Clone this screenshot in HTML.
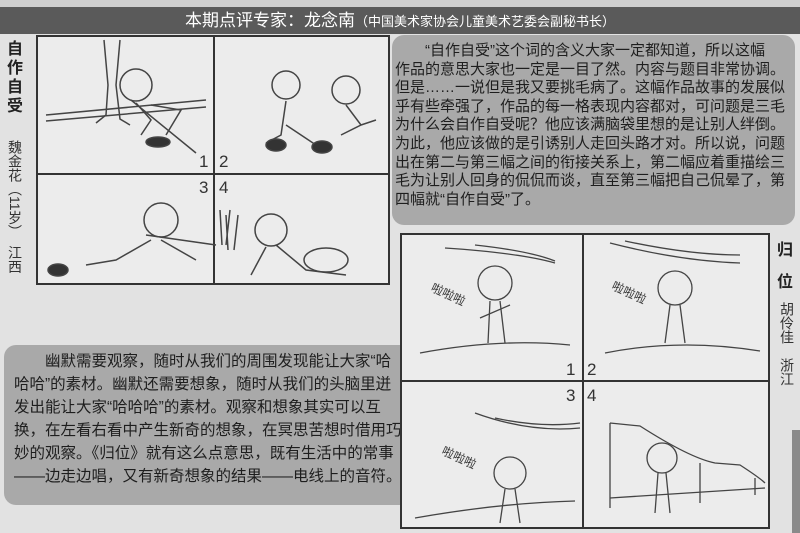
<!DOCTYPE html>
<html><head><meta charset="utf-8"><style>
body{margin:0;width:800px;height:533px;overflow:hidden;background:#e2e2e2;position:relative;font-family:"Liberation Sans","Noto Sans CJK SC",sans-serif;}
.abs{position:absolute}
.hdr{left:0;top:7px;width:800px;height:27px;background:#5a5a5a;color:#fff;font-size:17px;line-height:27px;text-align:center;}
.hdr small{font-size:13px}
.box{background:#a9a9a9;border-radius:12px;color:#1e1e1e;}
.line{white-space:nowrap;}
.frame{border:2px solid #333;background:#ececec;}
.vl{background:#333}
.num{font-size:17px;color:#333;}
.vt{font-weight:bold;font-size:16px;width:18px;line-height:19px;color:#222;text-align:center}
.vw{writing-mode:vertical-rl;font-size:14px;color:#333;line-height:16px;white-space:nowrap}
</style></head><body>
<div class="abs" style="left:0;top:0;width:800px;height:7px;background:#cfcfcf"></div>
<div class="abs hdr">本期点评专家：龙念南<small>（中国美术家协会儿童美术艺委会副秘书长）</small></div>

<div class="abs vt" style="left:6px;top:40px">自<br>作<br>自<br>受</div>
<div class="abs vw" style="left:7px;top:140px">魏金花（11岁）　江西</div>

<div class="abs frame" style="left:36px;top:35px;width:350px;height:246px"></div>
<div class="abs vl" style="left:213px;top:35px;width:2px;height:250px"></div>
<div class="abs vl" style="left:36px;top:173px;width:352px;height:2px"></div>
<div class="abs num" style="left:199px;top:152px">1</div>
<div class="abs num" style="left:219px;top:152px">2</div>
<div class="abs num" style="left:199px;top:178px">3</div>
<div class="abs num" style="left:219px;top:178px">4</div>
<svg class="abs" style="left:36px;top:35px" width="352" height="250" fill="none" stroke="#444" stroke-width="1.5">
<path d="M68 5 L72 50 L70 80 L60 88 M84 5 L80 50 L84 84 L94 90"/>
<path d="M10 80 L170 65 M10 86 L170 72 M95 65 L160 118"/>
<circle cx="100" cy="50" r="16"/><path d="M100 68 L115 85 L105 100 M115 70 L145 75 L130 100"/>
<ellipse cx="122" cy="107" rx="12" ry="5" fill="#333"/>
<circle cx="250" cy="50" r="14"/><path d="M250 66 L245 100 L230 108 M250 90 L280 110"/>
<ellipse cx="240" cy="110" rx="10" ry="6" fill="#333"/><ellipse cx="286" cy="112" rx="10" ry="6" fill="#333"/>
<circle cx="310" cy="55" r="14"/><path d="M310 70 L325 90 L305 100 M325 90 L340 85"/>
<path d="M110 200 L180 210 M184 175 L186 210 M194 175 L190 210"/>
<circle cx="125" cy="185" r="17"/><path d="M115 205 L80 225 L50 230 M125 205 L160 225"/>
<ellipse cx="22" cy="235" rx="10" ry="6" fill="#333"/>
<path d="M190 180 L192 215 M202 180 L198 215"/>
<circle cx="235" cy="195" r="16"/><path d="M230 212 L215 240 M240 210 L270 235 L310 240"/>
<ellipse cx="290" cy="225" rx="22" ry="12"/>
</svg>

<div class="abs box" style="left:392px;top:35px;width:403px;height:190px"></div>
<div class="abs" style="left:395px;top:42px;font-size:15px;line-height:18.6px;color:#1e1e1e">
<div class="line">　　“自作自受”这个词的含义大家一定都知道，所以这幅</div>
<div class="line">作品的意思大家也一定是一目了然。内容与题目非常协调。</div>
<div class="line">但是……一说但是我又要挑毛病了。这幅作品故事的发展似</div>
<div class="line">乎有些牵强了，作品的每一格表现内容都对，可问题是三毛</div>
<div class="line">为什么会自作自受呢？他应该满脑袋里想的是让别人绊倒。</div>
<div class="line">为此，他应该做的是引诱别人走回头路才对。所以说，问题</div>
<div class="line">出在第二与第三幅之间的衔接关系上，第二幅应着重描绘三</div>
<div class="line">毛为让别人回身的侃侃而谈，直至第三幅把自己侃晕了，第</div>
<div class="line">四幅就“自作自受”了。</div>
</div>

<div class="abs box" style="left:4px;top:345px;width:410px;height:160px"></div>
<div class="abs" style="left:14px;top:350px;font-size:15.5px;line-height:23px;color:#1e1e1e">
<div class="line">　　幽默需要观察，随时从我们的周围发现能让大家“哈</div>
<div class="line">哈哈”的素材。幽默还需要想象，随时从我们的头脑里迸</div>
<div class="line">发出能让大家“哈哈哈”的素材。观察和想象其实可以互</div>
<div class="line">换，在左看右看中产生新奇的想象，在冥思苦想时借用巧</div>
<div class="line">妙的观察。《归位》就有这么点意思，既有生活中的常事</div>
<div class="line">——边走边唱，又有新奇想象的结果——电线上的音符。</div>
</div>

<div class="abs frame" style="left:400px;top:233px;width:366px;height:292px"></div>
<div class="abs vl" style="left:582px;top:233px;width:2px;height:296px"></div>
<div class="abs vl" style="left:400px;top:380px;width:370px;height:2px"></div>
<div class="abs num" style="left:566px;top:360px">1</div>
<div class="abs num" style="left:587px;top:360px">2</div>
<div class="abs num" style="left:566px;top:386px">3</div>
<div class="abs num" style="left:587px;top:386px">4</div>
<svg class="abs" style="left:400px;top:233px" width="370" height="296" fill="none" stroke="#444" stroke-width="1.3">
<path d="M45 15 Q120 20 155 30 M75 12 Q130 18 155 28"/>
<path d="M20 120 Q100 105 170 112"/>
<circle cx="95" cy="50" r="17"/><path d="M90 68 L88 110 M100 68 L105 110 M80 85 L110 72"/>
<text x="30" y="62" font-size="12" fill="#333" stroke="none" transform="rotate(25 40 60)">啦啦啦</text>
<path d="M210 10 Q280 28 340 30 M225 8 Q290 22 340 22"/>
<path d="M205 120 Q280 105 360 118"/>
<circle cx="275" cy="55" r="17"/><path d="M270 72 L265 110 M280 72 L285 110"/>
<text x="210" y="60" font-size="12" fill="#333" stroke="none" transform="rotate(25 220 60)">啦啦啦</text>
<path d="M75 180 Q130 200 180 195 M95 185 Q140 195 180 190"/>
<path d="M15 285 Q100 270 175 268"/>
<circle cx="110" cy="240" r="16"/><path d="M105 256 L100 290 M115 256 L120 290"/>
<text x="40" y="225" font-size="12" fill="#333" stroke="none" transform="rotate(25 50 225)">啦啦啦</text>
<path d="M210 190 L210 275 M210 190 L240 193 Q290 225 315 230 L340 232 Q360 245 365 250 M300 230 L300 270 M355 245 L355 262"/>
<path d="M210 265 L365 255"/>
<circle cx="262" cy="225" r="15"/><path d="M258 240 L255 280 M266 240 L270 280"/>
</svg>

<div class="abs vt" style="left:776px;top:235px;line-height:32px">归<br>位</div>
<div class="abs vw" style="left:779px;top:302px">胡伶佳　浙江</div>
<div class="abs" style="left:792px;top:430px;width:8px;height:103px;background:#8a8a8a"></div>
</body></html>
